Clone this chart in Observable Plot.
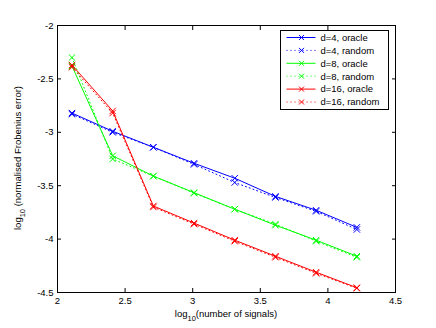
<!DOCTYPE html>
<html><head><meta charset="utf-8">
<script src="https://cdn.jsdelivr.net/npm/d3@7"></script>
<script src="https://cdn.jsdelivr.net/npm/@observablehq/plot@0.6"></script>
<style>body{margin:0;background:#fff}</style>
</head><body><div id="chart"></div>
<script>
const logSignals = [2.107, 2.408, 2.709, 3.010, 3.311, 3.612, 3.913, 4.214];
const d4Oracle  = [-2.82, -2.99, -3.14, -3.29, -3.43, -3.60, -3.73, -3.89];
const d4Random  = [-2.83, -3.00, -3.14, -3.30, -3.47, -3.61, -3.74, -3.91];
const d8Oracle  = [-2.38, -3.22, -3.41, -3.565, -3.72, -3.87, -4.01, -4.16];
const d8Random  = [-2.30, -3.25, -3.41, -3.57, -3.72, -3.86, -4.02, -4.17];
const d16Oracle = [-2.37, -2.80, -3.69, -3.85, -4.01, -4.16, -4.31, -4.455];
const d16Random = [-2.39, -2.82, -3.70, -3.86, -4.02, -4.17, -4.32, -4.46];
const seriesNames = ["d=4, oracle", "d=4, random", "d=8, oracle", "d=8, random", "d=16, oracle", "d=16, random"];
const xTicks = [2, 2.5, 3, 3.5, 4, 4.5];
const yTicks = [-2, -2.5, -3, -3.5, -4, -4.5];

const seriesValues = [d4Oracle, d4Random, d8Oracle, d8Random, d16Oracle, d16Random];
const colors = ["#0000ff", "#0000ff", "#00ff00", "#00ff00", "#ff0000", "#ff0000"];
const dashes = [null, "1,3", null, "1,3", null, "1,3"];

const series = seriesNames.map((name, i) => ({
  name, color: colors[i], dash: dashes[i],
  data: logSignals.map((x, j) => ({x, y: seriesValues[i][j], name}))
}));

const FS = 9.5;
const fmt = d => String(d);
const none = () => "";
const marks = [
  Plot.frame({stroke: "black", strokeWidth: 1}),
  Plot.axisX({ticks: xTicks, tickFormat: fmt, tickSize: 0, tickPadding: 5, label: null}),
  Plot.axisX({ticks: xTicks, tickFormat: none, tickSize: -4, label: null}),
  Plot.axisX({anchor: "top", ticks: xTicks, tickFormat: none, tickSize: -4, label: null}),
  Plot.axisY({ticks: yTicks, tickFormat: fmt, tickSize: 0, tickPadding: 4, label: null}),
  Plot.axisY({ticks: yTicks, tickFormat: none, tickSize: -4, label: null}),
  Plot.axisY({anchor: "right", ticks: yTicks, tickFormat: none, tickSize: -4, label: null})
];
for (const s of series) {
  marks.push(Plot.line(s.data, {x: "x", y: "y", stroke: s.color, strokeWidth: 1, strokeDasharray: s.dash}));
  marks.push(Plot.dot(s.data, {x: "x", y: "y", symbol: "times", r: 3, stroke: s.color, strokeWidth: 1}));
}

const chart = Plot.plot({
  width: 436, height: 328,
  marginLeft: 57, marginRight: 41, marginTop: 25, marginBottom: 36,
  style: {fontFamily: "'Liberation Sans', Arial, sans-serif", fontSize: FS + "px", color: "black", background: "white"},
  x: {domain: [2, 4.5]},
  y: {domain: [-4.5, -2]},
  marks
});

const svg = d3.select(chart);
// axis labels with subscripts
const xl = svg.append("text").attr("x", 226).attr("y", 317).attr("text-anchor", "middle")
  .attr("font-size", FS).attr("fill", "black");
xl.append("tspan").text("log");
xl.append("tspan").attr("font-size", 7.5).attr("dy", 3.5).text("10");
xl.append("tspan").attr("dy", -3.5).text("(number of signals)");

const yl = svg.append("text").attr("transform", "translate(21,158) rotate(-90)").attr("text-anchor", "middle")
  .attr("font-size", FS).attr("fill", "black");
yl.append("tspan").text("log");
yl.append("tspan").attr("font-size", 7.5).attr("dy", 3.5).text("10");
yl.append("tspan").attr("dy", -3.5).text(" (normalised Frobenius error)");

// legend
const lg = svg.append("g").attr("transform", "translate(280.5,30.5)");
lg.append("rect").attr("width", 108).attr("height", 79).attr("fill", "white").attr("stroke", "black");
series.forEach((s, i) => {
  const y = 7 + i * 12.9;
  lg.append("line").attr("x1", 6).attr("x2", 35).attr("y1", y).attr("y2", y)
    .attr("stroke", s.color).attr("stroke-dasharray", s.dash);
  lg.append("path").attr("d", `M${18.5},${y-2.5}L${23.5},${y+2.5}M${18.5},${y+2.5}L${23.5},${y-2.5}`)
    .attr("stroke", s.color).attr("fill", "none");
  lg.append("text").attr("x", 40).attr("y", y).attr("dy", "0.35em").attr("font-size", FS)
    .attr("text-anchor", "start").attr("fill", "black").text(s.name);
});

document.getElementById("chart").appendChild(chart);
</script>
</body></html>
